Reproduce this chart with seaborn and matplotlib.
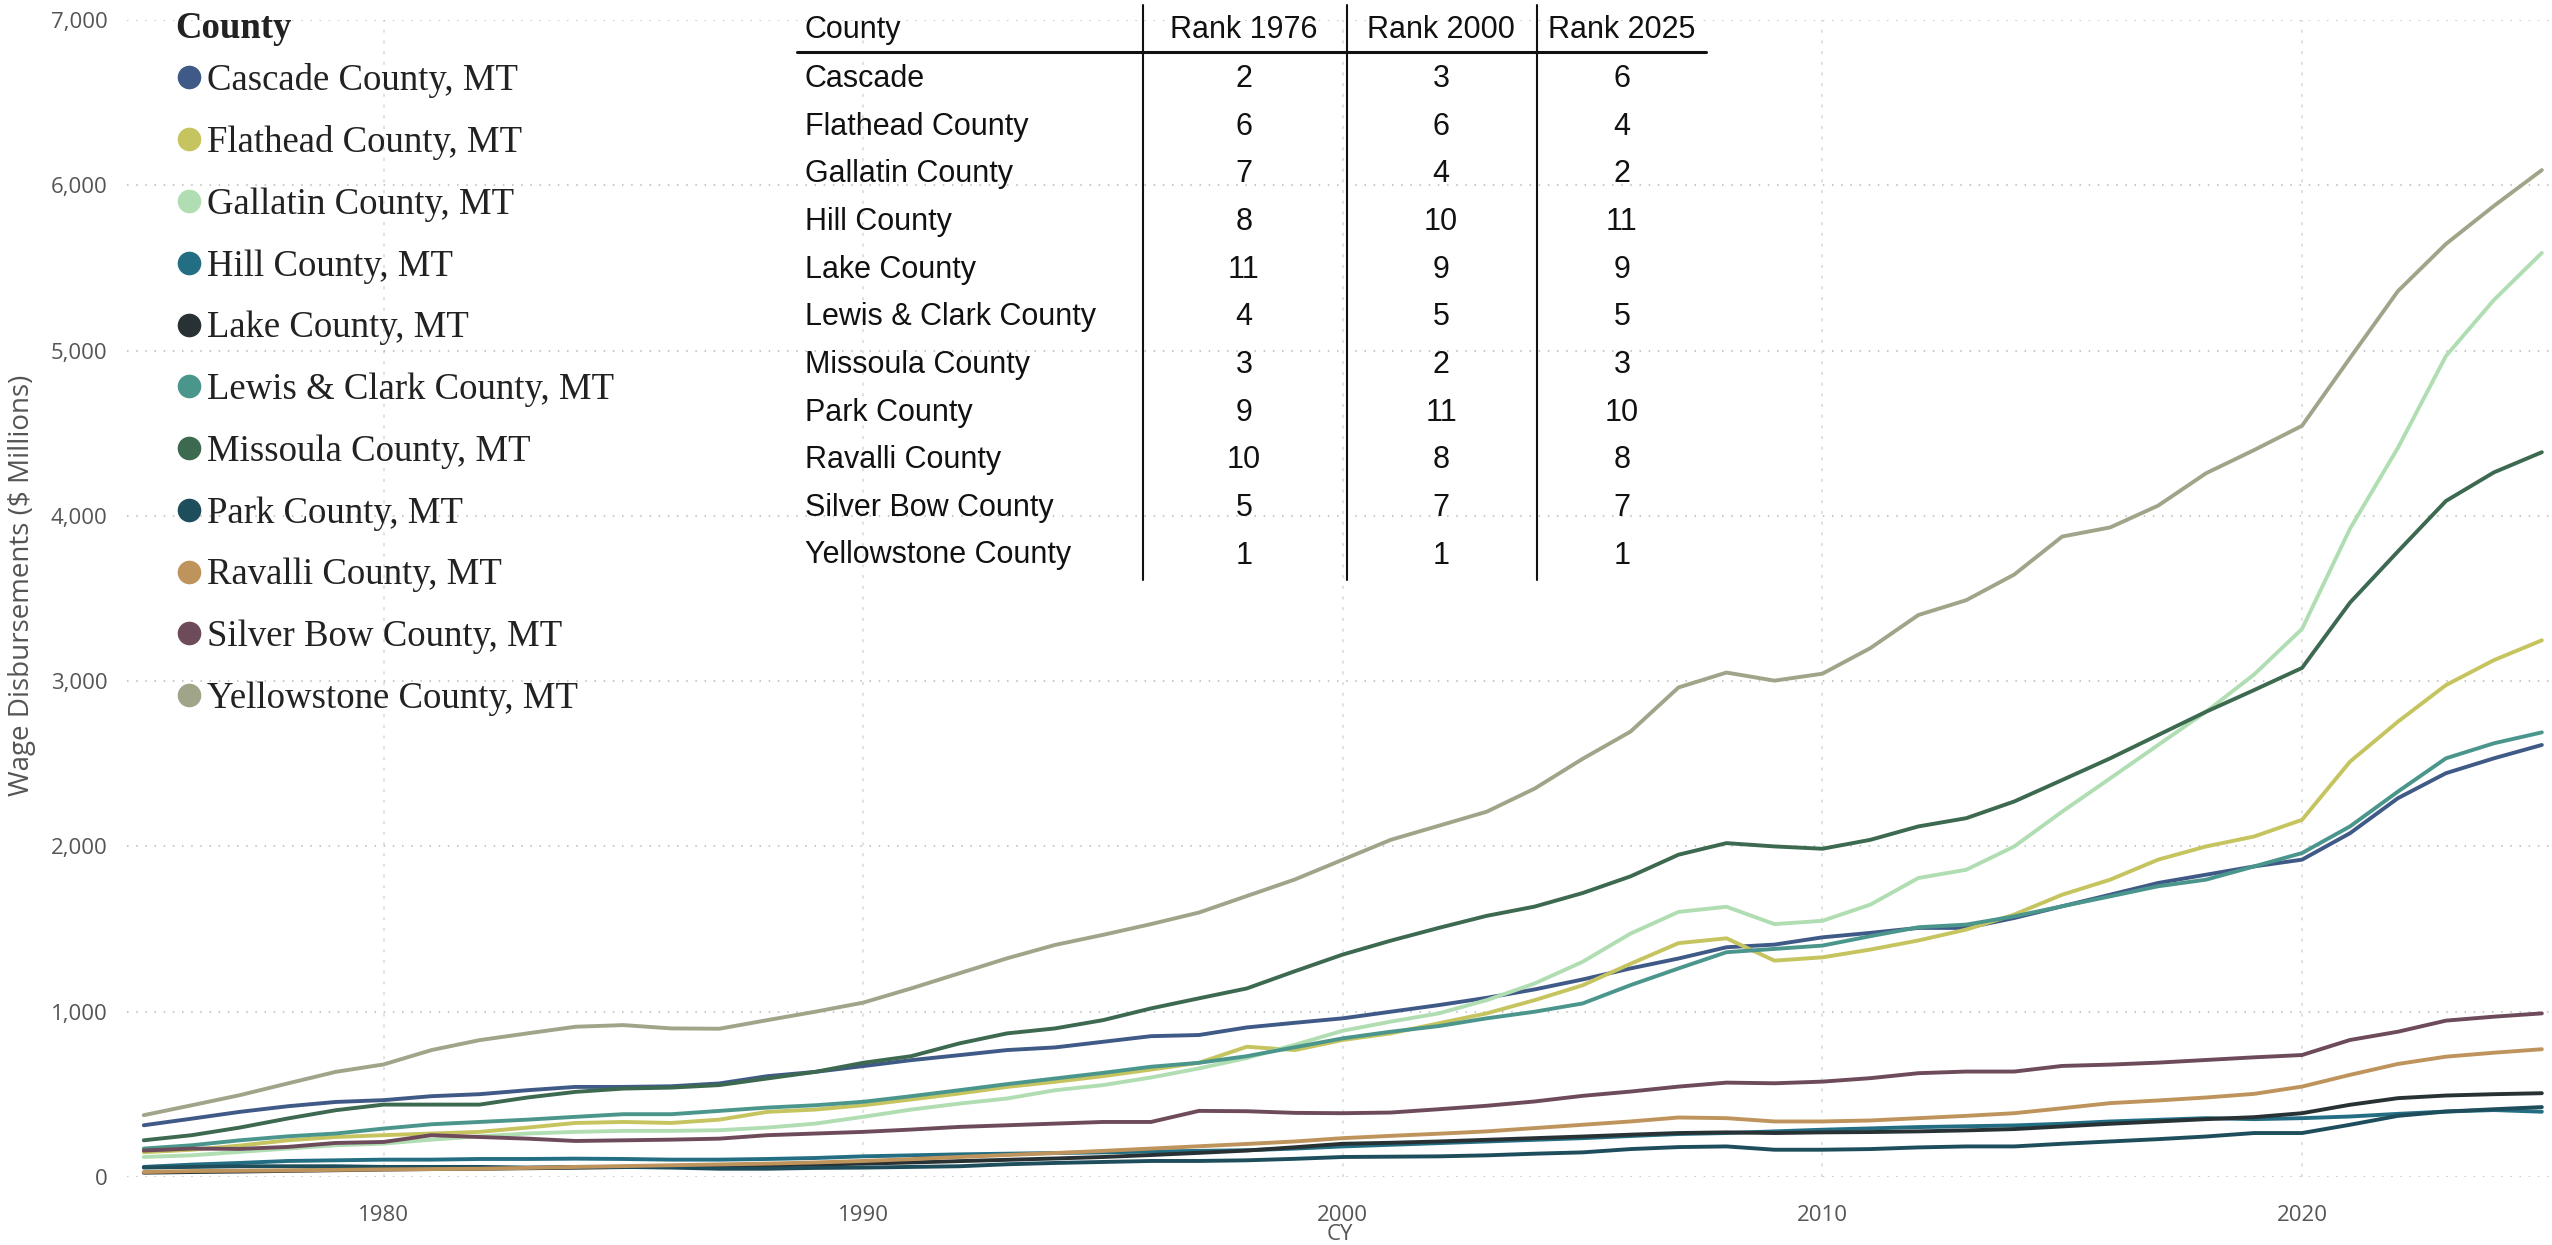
import pandas as pd
import matplotlib.pyplot as plt
import seaborn as sns
import matplotlib.ticker as ticker
from matplotlib.lines import Line2D
from matplotlib import font_manager

# 1. Data ($ millions)
years = list(range(1975, 2026))

cascade = [313, 353, 394, 428, 454, 465, 489, 501, 525, 545,
           545, 549, 566, 610, 636, 671, 707, 737, 768, 784,
           818, 852, 859, 905, 933, 960, 1000, 1040, 1084, 1135,
           1195, 1262, 1322, 1390, 1406, 1450, 1477, 1507, 1507, 1567,
           1638, 1708, 1779, 1829, 1879, 1920, 2080, 2292, 2443, 2533,
           2614]
flathead = [150, 165, 190, 222, 242, 253, 263, 273, 299, 327,
            333, 327, 347, 394, 408, 434, 469, 505, 545, 576,
            610, 650, 691, 788, 768, 829, 869, 930, 990, 1070,
            1160, 1290, 1415, 1444, 1309, 1329, 1376, 1431, 1497, 1588,
            1708, 1799, 1920, 2000, 2060, 2161, 2513, 2755, 2976, 3127,
            3247]
gallatin = [121, 131, 152, 172, 192, 202, 226, 246, 263, 273,
            279, 279, 283, 299, 323, 364, 408, 444, 475, 525,
            556, 602, 657, 720, 800, 885, 940, 990, 1070, 1171,
            1302, 1473, 1604, 1635, 1530, 1550, 1648, 1809, 1859, 2000,
            2211, 2412, 2614, 2815, 3040, 3316, 3922, 4412, 4967, 5306,
            5591]
hill = [61, 75, 85, 97, 101, 105, 105, 109, 109, 111,
        109, 105, 105, 109, 115, 125, 131, 137, 141, 145,
        149, 154, 158, 162, 172, 185, 195, 205, 215, 225,
        235, 248, 260, 266, 276, 286, 294, 302, 307, 312,
        322, 336, 346, 356, 350, 356, 366, 382, 396, 405,
        395]
lake = [26, 30, 33, 37, 41, 45, 48, 50, 53, 56,
        60, 63, 66, 70, 75, 81, 88, 96, 104, 112,
        121, 133, 146, 160, 180, 201, 207, 215, 225, 235,
        245, 256, 266, 270, 266, 270, 272, 276, 282, 290,
        306, 322, 336, 350, 362, 386, 437, 477, 493, 501,
        507]
lewis_clark = [172, 192, 222, 246, 263, 293, 319, 333, 347, 364,
               380, 380, 400, 420, 434, 455, 489, 525, 562, 596,
               630, 667, 691, 731, 785, 839, 879, 913, 960, 1000,
               1050, 1161, 1262, 1360, 1380, 1400, 1457, 1511, 1527, 1577,
               1638, 1698, 1759, 1799, 1879, 1960, 2121, 2332, 2533, 2624,
               2690]
missoula = [222, 253, 299, 354, 404, 438, 438, 438, 481, 515,
            535, 541, 556, 596, 636, 691, 731, 808, 869, 899,
            949, 1020, 1081, 1141, 1245, 1346, 1430, 1507, 1580, 1636,
            1718, 1819, 1950, 2020, 2000, 1986, 2040, 2121, 2171, 2272,
            2402, 2533, 2674, 2815, 2946, 3080, 3475, 3785, 4090, 4263,
            4385]
park = [57, 61, 65, 65, 65, 61, 61, 61, 57, 61,
        61, 57, 50, 50, 55, 57, 61, 65, 77, 85,
        91, 97, 97, 101, 110, 121, 123, 125, 131, 141,
        149, 169, 181, 185, 165, 165, 169, 179, 185, 185,
        201, 215, 229, 245, 266, 266, 316, 370, 396, 410,
        423]
ravalli = [30, 36, 38, 40, 43, 46, 48, 50, 55, 61,
           66, 71, 76, 81, 88, 97, 108, 121, 133, 145,
           158, 172, 186, 200, 215, 235, 249, 262, 276, 296,
           316, 336, 360, 356, 336, 336, 342, 356, 370, 386,
           416, 447, 463, 481, 503, 547, 618, 684, 728, 752,
           773]
silver_bow = [160, 172, 170, 182, 206, 212, 253, 242, 232, 218,
              222, 226, 232, 253, 263, 273, 287, 303, 313, 323,
              333, 333, 400, 398, 388, 386, 390, 410, 431, 457,
              491, 517, 547, 571, 567, 577, 598, 628, 638, 638,
              672, 680, 692, 708, 724, 738, 829, 879, 946, 970,
              990]
yellowstone = [374, 434, 495, 566, 636, 681, 768, 828, 869, 909,
               919, 899, 897, 949, 1000, 1055, 1141, 1232, 1323, 1404,
               1465, 1530, 1600, 1700, 1800, 1920, 2040, 2125, 2210, 2350,
               2530, 2695, 2962, 3052, 3003, 3045, 3200, 3400, 3490, 3645,
               3875, 3930, 4062, 4258, 4398, 4545, 4955, 5360, 5645, 5875,
               6092]

county_names = ["Cascade County, MT", "Flathead County, MT", "Gallatin County, MT",
                "Hill County, MT", "Lake County, MT", "Lewis & Clark County, MT",
                "Missoula County, MT", "Park County, MT", "Ravalli County, MT",
                "Silver Bow County, MT", "Yellowstone County, MT"]
county_colors = ["#3F5A87", "#C5C45F", "#B0DEB2", "#246E84", "#283234", "#4B968C",
                 "#3C6950", "#1E4E5C", "#BE945C", "#6E4B5A", "#A0A58A"]
series = [cascade, flathead, gallatin, hill, lake, lewis_clark,
          missoula, park, ravalli, silver_bow, yellowstone]

# rank table
table_counties = ["Cascade", "Flathead County", "Gallatin County", "Hill County",
                  "Lake County", "Lewis & Clark County", "Missoula County",
                  "Park County", "Ravalli County", "Silver Bow County",
                  "Yellowstone County"]
rank_1976 = [2, 6, 7, 8, 11, 4, 3, 9, 10, 5, 1]
rank_2000 = [3, 6, 4, 10, 9, 5, 2, 11, 8, 7, 1]
rank_2025 = [6, 4, 2, 11, 9, 5, 3, 10, 8, 7, 1]
table_header = ["County", "Rank 1976", "Rank 2000", "Rank 2025"]

# 2. Long format for seaborn
df = pd.DataFrame({
    "CY": years * len(series),
    "value": [v for s in series for v in s],
    "County": [name for name in county_names for _ in years],
})
palette = dict(zip(county_names, county_colors))

# 3. Fonts
sns.set_style("white")
available = {f.name for f in font_manager.fontManager.ttflist}
ui_font = "Open Sans" if "Open Sans" in available else "DejaVu Sans"
if "Liberation Sans Narrow" in available:
    table_font, table_size = "Liberation Sans Narrow", 26
else:
    table_font, table_size = "Liberation Sans", 22
legend_font = "Liberation Serif"
legend_size = 26.5
plt.rcParams["font.family"] = [ui_font, "DejaVu Sans"]

W, H = 2552, 1245
fig = plt.figure(figsize=(W / 100, H / 100), dpi=100)
ax = fig.add_axes([127 / W, 1 - 1177 / H, (2550 - 127) / W, (1177 - 20) / H])

sns.lineplot(data=df, x="CY", y="value", hue="County", palette=palette,
             linewidth=2.8, legend=False, ax=ax)

ax.set_xlim(1974.65, 2025.17)
ax.set_ylim(0, 7000)
ax.xaxis.set_major_locator(ticker.MultipleLocator(10))
ax.yaxis.set_major_locator(ticker.MultipleLocator(1000))
ax.yaxis.set_major_formatter(ticker.FuncFormatter(lambda v, p: f"{int(v):,}"))
ax.tick_params(length=0, labelsize=16, colors="#555555")
ax.tick_params(axis="x", pad=20)
ax.tick_params(axis="y", pad=14)
ax.set_xlabel("")
ax.set_ylabel("")
for sp in ax.spines.values():
    sp.set_visible(False)
ax.grid(axis="y", linestyle=(0, (1, 5)), color="#b8b8b8", linewidth=1.1)
ax.grid(axis="x", linestyle=(0, (2, 5)), color="#d8d8d8", linewidth=1.1)
ax.set_axisbelow(True)

fig.text(22 / W, 1 - 585 / H, "Wage Disbursements ($ Millions)", rotation=90,
         ha="center", va="center", fontsize=20, color="#555555")
fig.text(1340 / W, 1 - 1234 / H, "CY", ha="center", va="center",
         fontsize=16, color="#555555")

# 4. Legend (title drawn as its own text so it can sit closer to the items)
fig.text(175 / W, 1 - 29 / H, "County", ha="left", va="center",
         family=legend_font, fontsize=legend_size, weight="bold", color="#222222")
handles = [Line2D([], [], marker="o", linestyle="none", markersize=16,
                  markerfacecolor=c, markeredgecolor=c) for c in county_colors]
leg = ax.legend(handles, county_names, loc="upper left",
                bbox_to_anchor=(175 / W, 1 - 63 / H), bbox_transform=fig.transFigure,
                frameon=False, borderpad=0, borderaxespad=0, handlelength=0.76,
                handletextpad=0.1, labelspacing=0.74,
                prop={"family": legend_font, "size": legend_size})
for t in leg.get_texts():
    t.set_color("#222222")

# 5. Rank table drawn on top of the chart
col_x = [805, 1244, 1441, 1622]
header_y = 30
row_y0, row_step = 79, 47.65
for j, label in enumerate(table_header):
    fig.text(col_x[j] / W, 1 - header_y / H, label, ha="left" if j == 0 else "center",
             va="center", family=table_font, fontsize=table_size, color="#111111")
for i, name in enumerate(table_counties):
    y = 1 - (row_y0 + i * row_step) / H
    fig.text(col_x[0] / W, y, name, ha="left", va="center",
             family=table_font, fontsize=table_size, color="#111111")
    for j, ranks in enumerate([rank_1976, rank_2000, rank_2025], start=1):
        fig.text(col_x[j] / W, y, str(ranks[i]), ha="center", va="center",
                 family=table_font, fontsize=table_size, color="#111111")

fig.add_artist(Line2D([797 / W, 1706 / W], [1 - 52 / H, 1 - 52 / H],
                      transform=fig.transFigure, color="#111111", linewidth=2.2))
for vx in [1143, 1347, 1537]:
    fig.add_artist(Line2D([vx / W, vx / W], [1 - 5 / H, 1 - 580 / H],
                          transform=fig.transFigure, color="#111111", linewidth=1.5))

fig.savefig("out.png", dpi=100)
